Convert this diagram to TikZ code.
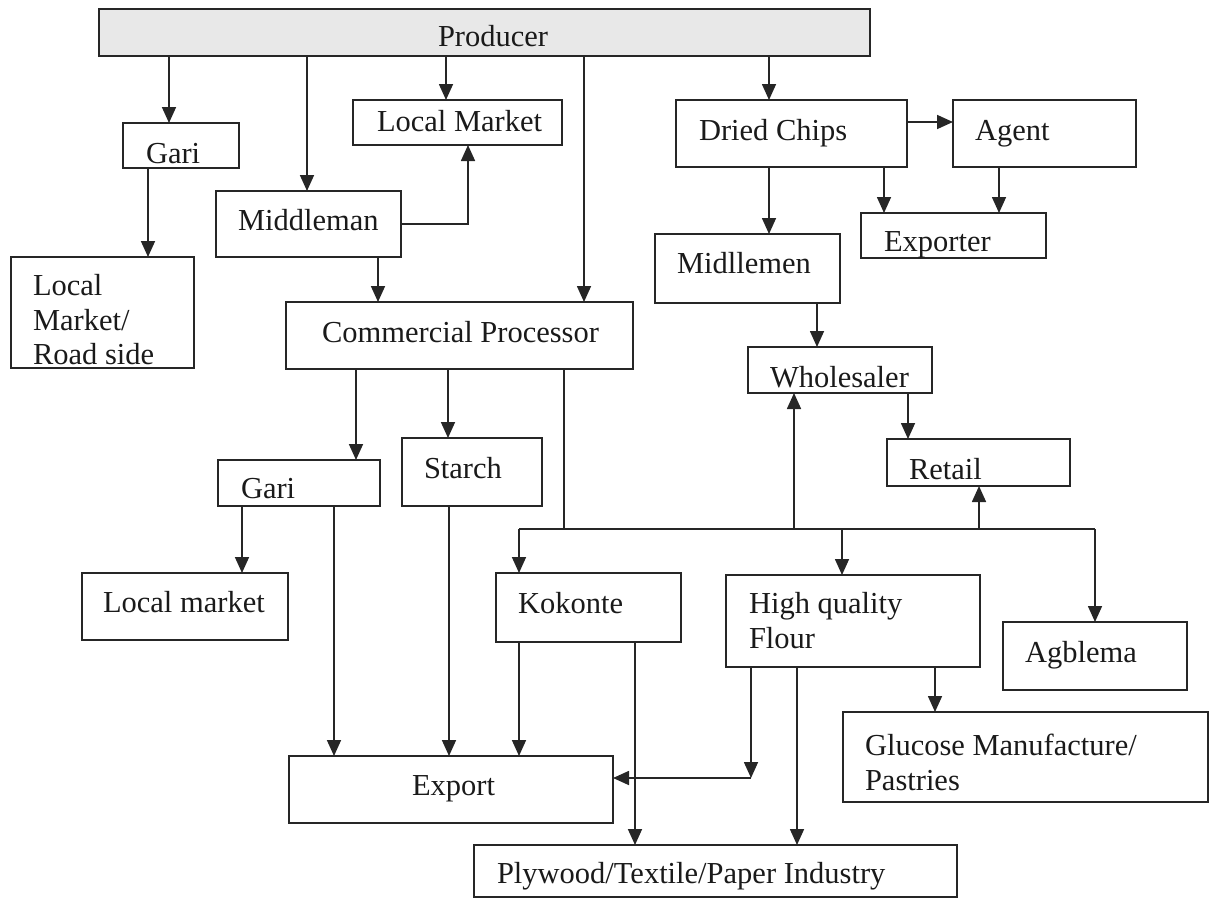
\documentclass[tikz,border=0pt]{standalone}
\usepackage{fontspec}
\setmainfont{Liberation Serif}
\usetikzlibrary{arrows.meta}

\definecolor{ink}{HTML}{262626}
\definecolor{txtc}{HTML}{1A1A1A}
\definecolor{shade}{HTML}{E8E8E8}

% \flowbox{name}{left}{top}{right}{bottom}  (y grows downwards)
\newcommand{\flowbox}[6][]{%
  \node[box,#1,minimum width={#5-#3},minimum height={#6-#4}] (#2)
    at ({(#3+#5)/2},{(#4+#6)/2}) {};}
% \vlink[style]{from anchor}{to anchor}{x}: vertical connector at a given x
\newcommand{\vlink}[4][arr]{%
  \path (#4,0) coordinate (vx);
  \draw[#1] (vx |- #2) -- (vx |- #3);}

\begin{document}
\begin{tikzpicture}[x=1pt,y=-1pt,
  box/.style={draw=ink,line width=2pt,rectangle,inner sep=0pt,outer sep=0pt},
  lbl/.style={text=txtc,font=\fontsize{30.5}{35}\selectfont,
    inner sep=0pt,outer sep=0pt,anchor=base west},
  link/.style={draw=ink,line width=1.7pt},
  arr/.style={link,-{Triangle[length=16pt,width=14pt]}}]
\useasboundingbox (0,0) rectangle (1220,899);

% ---------- boxes ----------
\flowbox[fill=shade]{producer}{99}{9}{870}{56}
\flowbox{gari1}{123}{123}{239}{168}
\flowbox{lmkt1}{353}{100}{562}{145}
\flowbox{middleman}{216}{191}{401}{257}
\flowbox{lmrs}{11}{257}{194}{368}
\flowbox{cp}{286}{302}{633}{369}
\flowbox{chips}{676}{100}{907}{167}
\flowbox{agent}{953}{100}{1136}{167}
\flowbox{exporter}{861}{213}{1046}{258}
\flowbox{midllemen}{655}{234}{840}{303}
\flowbox{wholesaler}{748}{347}{932}{393}
\flowbox{retail}{887}{439}{1070}{486}
\flowbox{gari2}{218}{460}{380}{506}
\flowbox{starch}{402}{438}{542}{506}
\flowbox{lmkt2}{82}{573}{288}{640}
\flowbox{kokonte}{496}{573}{681}{642}
\flowbox{flour}{726}{575}{980}{667}
\flowbox{agblema}{1003}{622}{1187}{690}
\flowbox{glucose}{843}{712}{1208}{802}
\flowbox{export}{289}{756}{613}{823}
\flowbox{plywood}{474}{845}{957}{897}

% ---------- labels ----------
\node[lbl] (t-producer) at (438,47) {Producer};
\node[lbl] (t-gari1) at (146,163) {Gari};
\node[lbl] (t-lmkt1) at (377,131) {Local Market};
\node[lbl] (t-middleman) at (238,230) {Middleman};
\node[lbl] (t-lmrs1) at (33,295) {Local};
\node[lbl] (t-lmrs2) at (33,330) {Market/};
\node[lbl] (t-lmrs3) at (33,364) {Road side};
\node[lbl] (t-cp) at (322,342) {Commercial Processor};
\node[lbl] (t-chips) at (699,140) {Dried Chips};
\node[lbl] (t-agent) at (975,140) {Agent};
\node[lbl] (t-exporter) at (884,251) {Exporter};
\node[lbl] (t-midllemen) at (677,273) {Midllemen};
\node[lbl] (t-wholesaler) at (770,387) {Wholesaler};
\node[lbl] (t-retail) at (909,479) {Retail};
\node[lbl] (t-gari2) at (241,498) {Gari};
\node[lbl] (t-starch) at (424,478) {Starch};
\node[lbl] (t-lmkt2) at (103,612) {Local market};
\node[lbl] (t-kokonte) at (518,613) {Kokonte};
\node[lbl] (t-flour1) at (749,613) {High quality};
\node[lbl] (t-flour2) at (749,648) {Flour};
\node[lbl] (t-agblema) at (1025,662) {Agblema};
\node[lbl] (t-glucose1) at (865,755) {Glucose Manufacture/};
\node[lbl] (t-glucose2) at (865,790) {Pastries};
\node[lbl] (t-export) at (412,795) {Export};
\node[lbl] (t-plywood) at (497,883) {Plywood/Textile/Paper Industry};

% ---------- connectors from the producer ----------
\vlink{producer.south}{gari1.north}{169}
\vlink{producer.south}{middleman.north}{307}
\vlink{producer.south}{lmkt1.north}{446}
\vlink{producer.south}{cp.north}{584}
\vlink{producer.south}{chips.north}{769}

% ---------- left branch ----------
\vlink{gari1.south}{lmrs.north}{148}
\coordinate (mm-turn) at (468,224);
\draw[arr] (middleman.east |- mm-turn) -- (mm-turn) -- (mm-turn |- lmkt1.south);
\vlink{middleman.south}{cp.north}{378}

% ---------- dried chips branch ----------
\coordinate (ca) at (0,122);
\draw[arr] (ca -| chips.east) -- (ca -| agent.west);
\vlink{chips.south}{exporter.north}{884}
\vlink{agent.south}{exporter.north}{999}
\vlink{chips.south}{midllemen.north}{769}
\vlink{midllemen.south}{wholesaler.north}{817}
\vlink{wholesaler.south}{retail.north}{908}

% ---------- commercial processor outputs ----------
\vlink{cp.south}{gari2.north}{356}
\vlink{cp.south}{starch.north}{448}
\coordinate (bus-w) at (519,529);
\coordinate (bus-e) at (1095,529);
\vlink[link]{cp.south}{bus-w}{564}
\draw[link] (bus-w) -- (bus-e);
\draw[arr] (bus-w) -- (bus-w |- kokonte.north);
\vlink{bus-w}{wholesaler.south}{794}
\vlink{bus-w}{flour.north}{842}
\vlink{bus-w}{retail.south}{979}
\draw[arr] (bus-e) -- (bus-e |- agblema.north);

% ---------- products to markets ----------
\vlink{gari2.south}{lmkt2.north}{242}
\vlink{gari2.south}{export.north}{334}
\vlink{starch.south}{export.north}{449}
\vlink{kokonte.south}{export.north}{519}
\vlink{kokonte.south}{plywood.north}{635}
\coordinate (fx) at (751,778);
\draw[arr] (fx |- flour.south) -- (fx);
\draw[arr] (fx) -- (fx -| export.east);
\vlink{flour.south}{plywood.north}{797}
\vlink{flour.south}{glucose.north}{935}

\end{tikzpicture}
\end{document}
